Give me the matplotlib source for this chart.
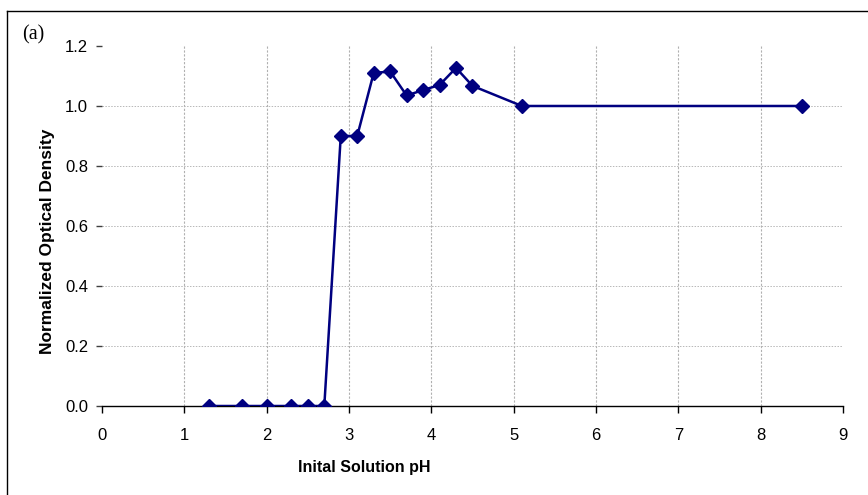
import matplotlib
matplotlib.use("Agg")
import matplotlib.pyplot as plt
from matplotlib.lines import Line2D

# initial pH vs normalized optical density
ph = [1.3, 1.7, 2.0, 2.3, 2.5, 2.7, 2.9, 3.1, 3.3, 3.5, 3.7, 3.9, 4.1, 4.3, 4.5, 5.1, 8.5]
od = [0.0, 0.0, 0.0, 0.0, 0.0, 0.0, 0.90, 0.90, 1.11, 1.115, 1.035, 1.053, 1.07, 1.127, 1.067, 1.0, 1.0]

xticks = [0, 1, 2, 3, 4, 5, 6, 7, 8, 9]
yticks = [0.0, 0.2, 0.4, 0.6, 0.8, 1.0, 1.2]

plt.rcParams['font.family'] = ['Liberation Sans', 'DejaVu Sans']

fig = plt.figure(figsize=(8.68, 4.95), dpi=100)
ax = fig.add_axes([0.1175, 0.1798, 0.8537, 0.7273])

# gridlines (drawn by hand so the top edge stays empty like the original)
for x in xticks[1:-1]:
    ax.plot([x, x], [0, 1.2], color='#b0b0b0', lw=0.8, ls=(0, (2, 1.5)), zorder=1)
for y in yticks[1:-1]:
    ax.plot([0, 9], [y, y], color='#b8b8b8', lw=0.7, ls=(0, (1.5, 1.5)), zorder=1)

ax.plot(ph, od, color='#000080', lw=1.8, marker='D', markersize=7,
        markerfacecolor='#000080', markeredgecolor='#000080', zorder=3)

ax.set_xlim(0, 9)
ax.set_ylim(0, 1.2)
ax.set_xticks(xticks)
ax.set_yticks(yticks)
ax.set_xticklabels([str(t) for t in xticks])
ax.set_yticklabels(['%.1f' % t for t in yticks])

for s in ['top', 'right', 'left']:
    ax.spines[s].set_visible(False)
ax.spines['bottom'].set_linewidth(1.0)
ax.tick_params(axis='x', direction='out', length=5, width=1.0, labelsize=12, pad=11)
ax.tick_params(axis='y', direction='out', length=4, width=1.0, color='#404040', labelsize=12, pad=6)

ax.set_xlabel('Inital Solution pH', fontsize=11.5, fontweight='bold')
ax.xaxis.set_label_coords(0.354, -0.15)
ax.set_ylabel('Normalized Optical Density', fontsize=12.5, fontweight='bold')
ax.yaxis.set_label_coords(-0.064, 0.458)

fig.text(0.025, 0.92, '(a)', fontsize=14.5, family='Liberation Serif')

# outer frame: only left and top edges show in the crop
fig.add_artist(Line2D([0.008, 0.008], [0.0, 0.978], color='black', lw=1.0, transform=fig.transFigure))
fig.add_artist(Line2D([0.008, 1.0], [0.978, 0.978], color='black', lw=1.0, transform=fig.transFigure))

fig.savefig('out.png', dpi=100)
